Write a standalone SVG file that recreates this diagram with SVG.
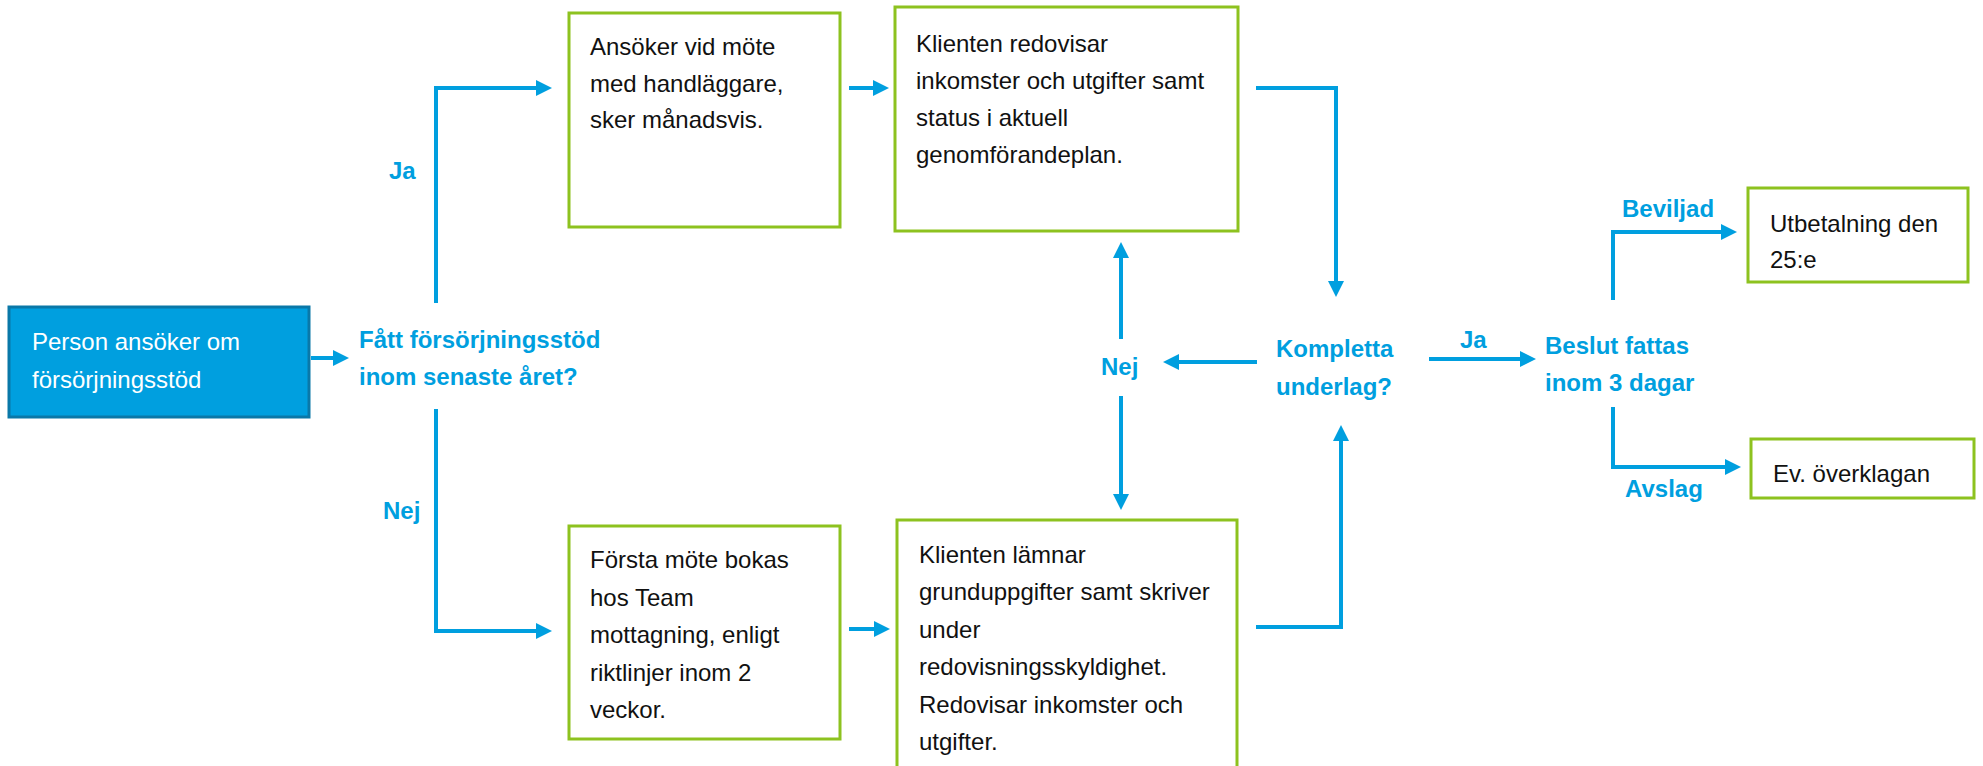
<svg xmlns="http://www.w3.org/2000/svg" width="1983" height="766" viewBox="0 0 1983 766">
<style>
.box{fill:#ffffff;stroke:#8DC21F;stroke-width:3}
.start{fill:#009FDF;stroke:#0A78A8;stroke-width:3}
.t{font-family:"Liberation Sans",Arial,sans-serif;font-size:24px;fill:#111111}
.w{font-family:"Liberation Sans",Arial,sans-serif;font-size:24px;fill:#ffffff}
.lbl{font-family:"Liberation Sans",Arial,sans-serif;font-size:24px;font-weight:bold;fill:#009FDF}
.c{fill:none;stroke:#009FDF;stroke-width:4;marker-end:url(#ah)}
</style>
<defs>
<marker id="ah" markerUnits="userSpaceOnUse" viewBox="0 -8 16 16" refX="0" refY="0" markerWidth="16" markerHeight="16" orient="auto">
<path d="M0,-8 L16,0 L0,8 Z" fill="#009FDF"/>
</marker>
</defs>
<rect width="1983" height="766" fill="#ffffff"/>
<g id="connectors">
<path class="c" d="M311,358 H333"/>
<path class="c" d="M436,303 V88 H536"/>
<path class="c" d="M436,409 V631 H536"/>
<path class="c" d="M849,88 H873"/>
<path class="c" d="M849,629 H874"/>
<path class="c" d="M1256,88 H1336 V281"/>
<path class="c" d="M1256,627 H1341 V441"/>
<path class="c" d="M1257,362 H1179"/>
<path class="c" d="M1121,339 V258"/>
<path class="c" d="M1121,396 V494"/>
<path class="c" d="M1429,359 H1520"/>
<path class="c" d="M1613,300 V232 H1721"/>
<path class="c" d="M1613,407 V467 H1725"/>
<text class="lbl" x="389" y="179">Ja</text>
<text class="lbl" x="383" y="519">Nej</text>
<text class="lbl" x="1101" y="375">Nej</text>
<text class="lbl" x="1460" y="348">Ja</text>
<text class="lbl" x="1622" y="217">Beviljad</text>
<text class="lbl" x="1625" y="497">Avslag</text>
</g>
<g id="start">
<rect class="start" x="9" y="307" width="300" height="110"/>
<text class="w" x="32" y="350">Person ansöker om</text>
<text class="w" x="32" y="388">försörjningsstöd</text>
</g>
<g id="q1">
<text class="lbl" x="359" y="348">Fått försörjningsstöd</text>
<text class="lbl" x="359" y="385">inom senaste året?</text>
</g>
<g id="ansoker">
<rect class="box" x="569" y="13" width="271" height="214"/>
<text class="t" x="590" y="55">Ansöker vid möte</text>
<text class="t" x="590" y="92">med handläggare,</text>
<text class="t" x="590" y="128">sker månadsvis.</text>
</g>
<g id="forsta">
<rect class="box" x="569" y="526" width="271" height="213"/>
<text class="t" x="590" y="568">Första möte bokas</text>
<text class="t" x="590" y="605.5">hos Team</text>
<text class="t" x="590" y="643">mottagning, enligt</text>
<text class="t" x="590" y="680.5">riktlinjer inom 2</text>
<text class="t" x="590" y="718">veckor.</text>
</g>
<g id="redovisar">
<rect class="box" x="895" y="7" width="343" height="224"/>
<text class="t" x="916" y="52">Klienten redovisar</text>
<text class="t" x="916" y="89">inkomster och utgifter samt</text>
<text class="t" x="916" y="126">status i aktuell</text>
<text class="t" x="916" y="163">genomförandeplan.</text>
</g>
<g id="lamnar">
<rect class="box" x="897" y="520" width="340" height="280"/>
<text class="t" x="919" y="563">Klienten lämnar</text>
<text class="t" x="919" y="600">grunduppgifter samt skriver</text>
<text class="t" x="919" y="638">under</text>
<text class="t" x="919" y="675">redovisningsskyldighet.</text>
<text class="t" x="919" y="713">Redovisar inkomster och</text>
<text class="t" x="919" y="750">utgifter.</text>
</g>
<g id="kompletta">
<text class="lbl" x="1276" y="357">Kompletta</text>
<text class="lbl" x="1276" y="395">underlag?</text>
</g>
<g id="beslut">
<text class="lbl" x="1545" y="354">Beslut fattas</text>
<text class="lbl" x="1545" y="391">inom 3 dagar</text>
</g>
<g id="utbetalning">
<rect class="box" x="1748" y="188" width="220" height="94"/>
<text class="t" x="1770" y="232">Utbetalning den</text>
<text class="t" x="1770" y="268">25:e</text>
</g>
<g id="overklagan">
<rect class="box" x="1751" y="439" width="223" height="59"/>
<text class="t" x="1773" y="482">Ev. överklagan</text>
</g>
</svg>
